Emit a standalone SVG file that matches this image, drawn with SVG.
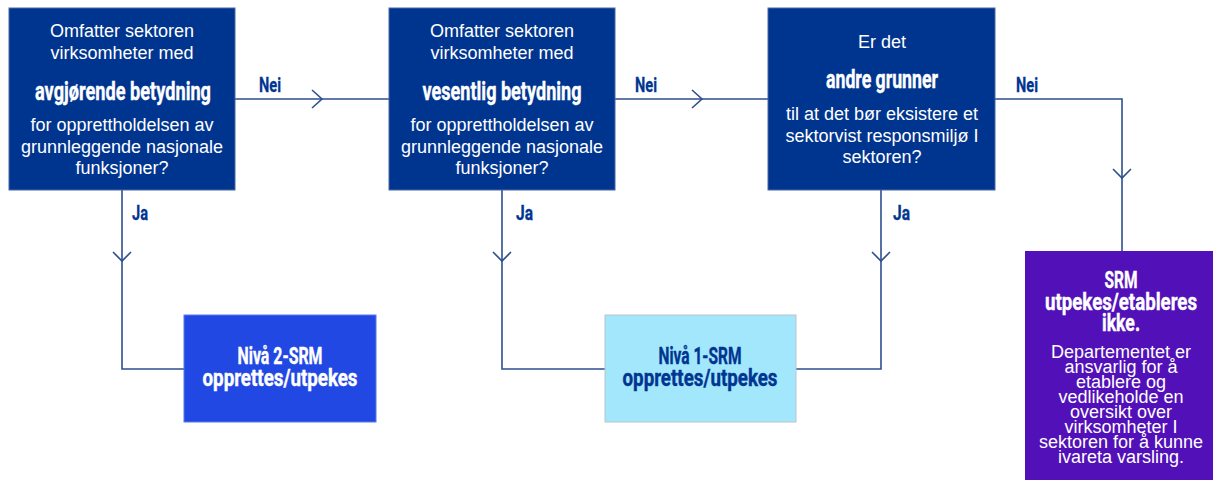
<svg xmlns="http://www.w3.org/2000/svg" width="1214" height="481" viewBox="0 0 1214 481">
<style>
.q{fill:#00358f;stroke:#4a67a3;stroke-width:1}
.t{font-family:"Liberation Sans",Arial,sans-serif;font-size:18px;fill:#fff;text-anchor:middle}
.b{font-family:Roboto,"DejaVu Sans",sans-serif;font-weight:bold;fill:#fff;stroke:#fff;stroke-width:0.4;text-anchor:middle}
.d{fill:#003591;stroke:#003591}
.lbl{font-family:Roboto,"DejaVu Sans",sans-serif;font-weight:bold;font-size:21px;fill:#003591;stroke:#003591;stroke-width:0.3}
.c{fill:none;stroke:#2e4f8f;stroke-width:1.6}
.s{font-family:"Liberation Sans",Arial,sans-serif;font-size:18px;fill:#fff;text-anchor:middle}
</style>
<g id="connectors">
<path class="c" d="M235 99H389M615 99H768M995 99H1122V251"/>
<path class="c" d="M122 190V369H184M502 190V369H605M881 190V369H796"/>
<polyline class="c" points="312,90 322,99 312,108"/>
<polyline class="c" points="692,90 702,99 692,108"/>
<polyline class="c" points="1113,169 1122,178 1131,169"/>
<polyline class="c" points="113,252 122,261 131,252"/>
<polyline class="c" points="493,252 502,261 511,252"/>
<polyline class="c" points="872,252 881,261 890,252"/>
<text class="lbl" x="259" y="92" textLength="22" lengthAdjust="spacingAndGlyphs">Nei</text>
<text class="lbl" x="635" y="92" textLength="22" lengthAdjust="spacingAndGlyphs">Nei</text>
<text class="lbl" x="1016" y="92" textLength="22" lengthAdjust="spacingAndGlyphs">Nei</text>
<text class="lbl" x="132" y="220" textLength="16" lengthAdjust="spacingAndGlyphs">Ja</text>
<text class="lbl" x="516" y="220" textLength="17" lengthAdjust="spacingAndGlyphs">Ja</text>
<text class="lbl" x="893" y="220" textLength="17" lengthAdjust="spacingAndGlyphs">Ja</text>
</g>
<g id="q1">
<rect class="q" x="9" y="8" width="226" height="182"/>
<text class="t" x="122" y="37">Omfatter sektoren</text>
<text class="t" x="122" y="58.5">virksomheter med</text>
<text class="b" x="123" y="100" font-size="25" textLength="176" lengthAdjust="spacingAndGlyphs">avgjørende betydning</text>
<text class="t" x="122" y="131">for opprettholdelsen av</text>
<text class="t" x="122" y="152.5">grunnleggende nasjonale</text>
<text class="t" x="122" y="174">funksjoner?</text>
</g>
<g id="q2">
<rect class="q" x="389" y="8" width="226" height="182"/>
<text class="t" x="502" y="37">Omfatter sektoren</text>
<text class="t" x="502" y="58.5">virksomheter med</text>
<text class="b" x="502" y="100" font-size="25" textLength="159" lengthAdjust="spacingAndGlyphs">vesentlig betydning</text>
<text class="t" x="502" y="131">for opprettholdelsen av</text>
<text class="t" x="502" y="152.5">grunnleggende nasjonale</text>
<text class="t" x="502" y="174">funksjoner?</text>
</g>
<g id="q3">
<rect class="q" x="768" y="8" width="227" height="182"/>
<text class="t" x="882" y="48">Er det</text>
<text class="b" x="882" y="88" font-size="25" textLength="112" lengthAdjust="spacingAndGlyphs">andre grunner</text>
<text class="t" x="882" y="120">til at det bør eksistere et</text>
<text class="t" x="882" y="141.5">sektorvist responsmiljø I</text>
<text class="t" x="882" y="163">sektoren?</text>
</g>
<g id="niva2">
<rect x="184" y="315" width="192" height="107" fill="#2148e2" stroke="#5b7be8" stroke-width="1"/>
<text class="b" x="280" y="364" font-size="23" textLength="85" lengthAdjust="spacingAndGlyphs">Nivå 2-SRM</text>
<text class="b" x="280" y="386" font-size="23" textLength="155" lengthAdjust="spacingAndGlyphs">opprettes/utpekes</text>
</g>
<g id="niva1">
<rect x="605" y="315" width="191" height="107" fill="#a3e7fd" stroke="#b8c4cc" stroke-width="1"/>
<text class="b d" x="700" y="364" font-size="23" textLength="83" lengthAdjust="spacingAndGlyphs">Nivå 1-SRM</text>
<text class="b d" x="700" y="386" font-size="23" textLength="155" lengthAdjust="spacingAndGlyphs">opprettes/utpekes</text>
</g>
<g id="ikke">
<rect x="1025" y="251" width="188" height="229" fill="#5211b8"/>
<text class="b" x="1121" y="288" font-size="24" textLength="33" lengthAdjust="spacingAndGlyphs">SRM</text>
<text class="b" x="1121" y="310" font-size="24" textLength="152" lengthAdjust="spacingAndGlyphs">utpekes/etableres</text>
<text class="b" x="1121" y="331" font-size="24" textLength="38" lengthAdjust="spacingAndGlyphs">ikke.</text>
<text class="s" x="1121" y="357.5">Departementet er</text>
<text class="s" x="1121" y="372.5">ansvarlig for å</text>
<text class="s" x="1121" y="387.5">etablere og</text>
<text class="s" x="1121" y="402.5">vedlikeholde en</text>
<text class="s" x="1121" y="417.5">oversikt over</text>
<text class="s" x="1121" y="432.5">virksomheter I</text>
<text class="s" x="1121" y="447.5">sektoren for å kunne</text>
<text class="s" x="1121" y="462.5">ivareta varsling.</text>
</g>
</svg>
